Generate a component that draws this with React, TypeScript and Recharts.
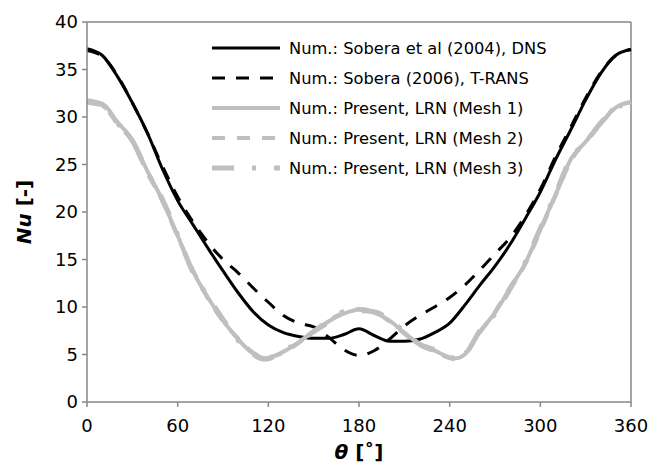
import React from 'react';
import {
  LineChart,
  Line,
  XAxis,
  YAxis,
  Legend,
  ReferenceLine,
  Label,
} from 'recharts';

const FONT = '"DejaVu Sans", sans-serif';
const AXIS = '#878787';
const GRAY = '#bfbfbf';

// angle samples (deg)
const thetaRef = [0, 10, 20, 30, 40, 50, 60, 70, 80, 90, 100, 110, 120, 130, 140, 150, 160, 170, 180,
  190, 200, 210, 220, 230, 240, 250, 260, 270, 280, 290, 300, 310, 320, 330, 340, 350, 360];
const thetaPresent = [0, 10, 20, 30, 40, 50, 60, 70, 80, 90, 100, 110, 118, 130, 140, 150, 160, 170, 180,
  190, 200, 210, 220, 230, 244, 250, 260, 270, 280, 290, 300, 310, 320, 330, 340, 350, 360];

// Nu values
const nuDns = [37.2, 36.5, 34.3, 31.5, 28.3, 24.5, 21.2, 18.7, 16.2, 13.8, 11.5, 9.5, 8.1, 7.3, 6.9, 6.7,
  6.7, 7.1, 7.7, 7.0, 6.4, 6.4, 6.6, 7.3, 8.3, 10.2, 12.3, 14.3, 16.6, 19.3, 22.1, 25.5, 28.6, 31.8, 34.6, 36.5, 37.1];
const nuTrans = [37.0, 36.4, 34.4, 31.5, 28.3, 24.8, 21.6, 19.0, 16.8, 15.0, 13.6, 12.0, 10.5, 9.1, 8.3, 7.9,
  6.8, 5.5, 4.9, 5.4, 6.6, 8.0, 9.1, 10.0, 11.0, 12.3, 13.9, 15.6, 17.3, 19.6, 22.4, 25.8, 28.9, 32.0, 34.7, 36.5, 37.1];
const nuMesh1 = [31.6, 31.4, 29.5, 27.6, 24.3, 21.2, 17.5, 13.8, 11.0, 8.6, 6.6, 5.1, 4.6, 5.3, 6.3, 7.4,
  8.5, 9.3, 9.7, 9.4, 8.6, 7.3, 6.1, 5.4, 4.6, 5.0, 7.4, 9.4, 12.0, 14.6, 18.2, 21.8, 25.5, 27.4, 29.3, 31.0, 31.6];
const nuMesh2 = [31.5, 31.2, 29.3, 27.4, 24.1, 21.1, 17.4, 13.9, 10.9, 8.5, 6.7, 5.2, 4.7, 5.2, 6.2, 7.5,
  8.6, 9.4, 9.8, 9.5, 8.5, 7.2, 6.0, 5.3, 4.5, 5.1, 7.3, 9.5, 12.1, 14.5, 18.0, 21.7, 25.3, 27.5, 29.2, 31.1, 31.5];
const nuMesh3 = [31.7, 31.3, 29.4, 27.5, 24.2, 21.3, 17.6, 13.7, 11.1, 8.7, 6.5, 5.0, 4.5, 5.4, 6.3, 7.4,
  8.4, 9.5, 9.6, 9.5, 8.7, 7.4, 6.1, 5.5, 4.6, 5.0, 7.5, 9.3, 11.9, 14.7, 18.3, 21.9, 25.6, 27.3, 29.4, 30.9, 31.6];

const xTicks = [0, 60, 120, 180, 240, 300, 360];
const yTicks = [0, 5, 10, 15, 20, 25, 30, 35, 40];

const toData = (th: number[], nu: number[]) => th.map((t, i) => ({ theta: t, nu: nu[i] }));

const series = [
  { name: 'Num.: Sobera et al (2004), DNS', data: toData(thetaRef, nuDns), color: '#000', width: 3, dash: undefined },
  { name: 'Num.: Sobera (2006), T-RANS', data: toData(thetaRef, nuTrans), color: '#000', width: 3, dash: '13 11' },
  { name: 'Num.: Present, LRN (Mesh 1)', data: toData(thetaPresent, nuMesh1), color: GRAY, width: 4, dash: undefined },
  { name: 'Num.: Present, LRN (Mesh 2)', data: toData(thetaPresent, nuMesh2), color: GRAY, width: 4, dash: '13 12' },
  { name: 'Num.: Present, LRN (Mesh 3)', data: toData(thetaPresent, nuMesh3), color: GRAY, width: 5, dash: '22 18 4 18' },
];

const LegendBox = () => (
  <div style={{ fontFamily: FONT, fontSize: 16.3, color: '#000' }}>
    {series.map((s) => (
      <div key={s.name} style={{ display: 'flex', alignItems: 'center', height: 30 }}>
        <svg width={77} height={30}>
          <line x1={0} y1={15} x2={68} y2={15} stroke={s.color} strokeWidth={s.width}
            strokeDasharray={s.dash} />
        </svg>
        <span style={{ whiteSpace: 'nowrap' }}>{s.name}</span>
      </div>
    ))}
  </div>
);

const XTitle = (props: any) => {
  const vb = props.viewBox;
  return (
    <text x={vb.x + vb.width / 2} y={vb.y + 57} textAnchor="middle" fontFamily={FONT}
      fontSize={20} fontWeight="bold" fill="#000">
      <tspan fontStyle="italic">θ</tspan>
      <tspan> [˚]</tspan>
    </text>
  );
};

const YTitle = () => (
  <text x={31} y={212} transform="rotate(-90 31 212)" textAnchor="middle" fontFamily={FONT}
    fontSize={20} fontWeight="bold" fill="#000">
    <tspan fontStyle="italic">Nu</tspan>
    <tspan> [-]</tspan>
  </text>
);

export default function App() {
  const tick = { fontFamily: FONT, fontSize: 18, fill: '#000' };
  return (
    <div style={{ position: 'absolute', left: 0, top: 0, background: '#fff' }}>
      <LineChart width={651} height={464} margin={{ top: 22, right: 20, bottom: 22, left: 0 }}>
        <XAxis type="number" dataKey="theta" domain={[0, 360]} ticks={xTicks} interval={0}
          stroke={AXIS} strokeWidth={1.5} tickSize={5} tickMargin={12} height={40} tick={tick}
          allowDuplicatedCategory={false}>
          <Label content={<XTitle />} />
        </XAxis>
        <YAxis type="number" domain={[0, 40]} ticks={yTicks} interval={0} width={87}
          stroke={AXIS} strokeWidth={1.5} tickSize={5} tickMargin={4} tick={tick}>
          <Label content={<YTitle />} />
        </YAxis>
        <ReferenceLine y={40} stroke={AXIS} strokeWidth={1.5} />
        <ReferenceLine x={360} stroke={AXIS} strokeWidth={1.5} />
        <Legend layout="horizontal" verticalAlign="middle" align="center" content={<LegendBox />}
          wrapperStyle={{ position: 'absolute', left: 212, top: 33, width: 'auto' }} />
        {series.map((s) => (
          <Line key={s.name} data={s.data} dataKey="nu" name={s.name} type="monotone" dot={false}
            stroke={s.color} strokeWidth={s.width} strokeDasharray={s.dash}
            isAnimationActive={false} />
        ))}
      </LineChart>
    </div>
  );
}
